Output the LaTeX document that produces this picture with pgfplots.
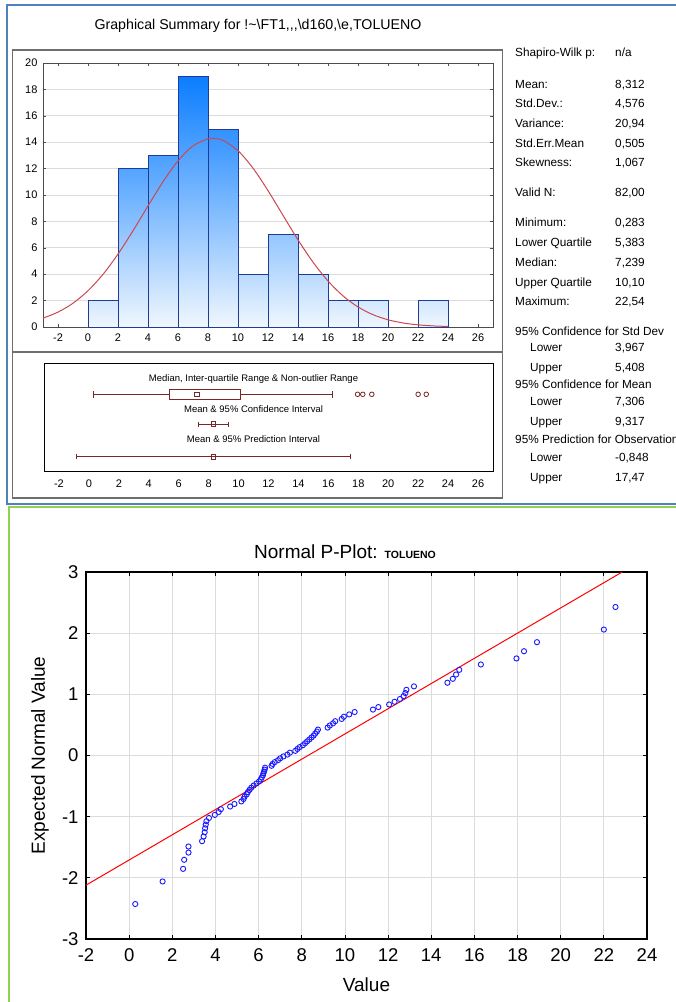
\documentclass[border=0pt]{standalone}
\usepackage{fontspec}
\setmainfont{Liberation Sans}
\usepackage{pgfplots}
\pgfplotsset{compat=1.18}
\definecolor{hdark}{RGB}{10,125,255}
\definecolor{hlight}{RGB}{240,247,254}
\definecolor{hedge}{RGB}{30,60,150}
\definecolor{ncurve}{RGB}{205,70,80}
\definecolor{boxc}{RGB}{120,40,40}
\definecolor{framegray}{RGB}{110,110,110}
\definecolor{gridgray}{RGB}{220,220,220}
\definecolor{bordblue}{RGB}{79,129,189}
\definecolor{bordgreen}{RGB}{146,208,80}
\definecolor{pblue}{RGB}{25,25,255}
\newcommand{\fs}[1]{\fontsize{#1}{#1}\selectfont}
\pgfplotstableread{
x y
0.283 -2.428
1.55 -2.059
2.50 -1.853
2.55 -1.705
2.75 -1.587
2.75 -1.488
3.38 -1.401
3.45 -1.324
3.50 -1.254
3.52 -1.190
3.55 -1.130
3.58 -1.074
3.70 -1.021
3.97 -0.971
4.15 -0.924
4.25 -0.878
4.68 -0.834
4.88 -0.792
5.20 -0.751
5.30 -0.711
5.35 -0.672
5.45 -0.634
5.50 -0.598
5.58 -0.561
5.66 -0.526
5.77 -0.491
5.90 -0.457
6.02 -0.424
6.10 -0.391
6.15 -0.358
6.20 -0.326
6.22 -0.294
6.25 -0.262
6.28 -0.231
6.30 -0.199
6.60 -0.168
6.65 -0.137
6.75 -0.107
6.90 -0.076
7.00 -0.046
7.15 -0.015
7.33 0.015
7.45 0.046
7.70 0.076
7.80 0.107
7.90 0.137
8.05 0.168
8.15 0.199
8.25 0.231
8.35 0.262
8.45 0.294
8.55 0.326
8.62 0.358
8.70 0.391
8.75 0.424
9.20 0.457
9.30 0.491
9.45 0.526
9.55 0.561
9.85 0.598
9.95 0.634
10.20 0.672
10.45 0.711
11.30 0.751
11.55 0.792
12.05 0.834
12.30 0.878
12.55 0.924
12.72 0.971
12.80 1.021
12.85 1.074
13.20 1.130
14.75 1.190
15.00 1.254
15.15 1.324
15.30 1.401
16.30 1.488
17.95 1.587
18.30 1.705
18.90 1.853
22.00 2.059
22.54 2.428
}\pplot
\begin{document}
\begin{tikzpicture}[x=1pt,y=1pt]
\path[use as bounding box] (0,0) rectangle (676,-1002);
% panel borders
\draw[bordblue, line width=2] (690,-5) -- (6.5,-5) -- (6.5,-504) -- (690,-504);
\draw[bordgreen, line width=2] (690,-507) -- (8.5,-507) -- (8.5,-1010);
\draw[framegray, line width=1.5] (12.5,-50) rectangle (502.5,-498);
\draw[framegray, line width=1.2] (12.5,-352) -- (502.5,-352);
\node[anchor=base, font=\fs{14.2}] at (258,-29) {Graphical Summary for !\textasciitilde\textbackslash FT1{,}{,}{,}\textbackslash d160{,}\textbackslash e{,}TOLUENO};
% statistics
\begin{scope}[every node/.style={anchor=base west, font=\fs{11.8}, inner sep=0pt}]
\node at (515,-56) {Shapiro-Wilk p:}; \node at (615,-56) {n/a};
\node at (515,-88) {Mean:}; \node at (615,-88) {8,312};
\node at (515,-107) {Std.Dev.:}; \node at (615,-107) {4,576};
\node at (515,-127) {Variance:}; \node at (615,-127) {20,94};
\node at (515,-147) {Std.Err.Mean}; \node at (615,-147) {0,505};
\node at (515,-166) {Skewness:}; \node at (615,-166) {1,067};
\node at (515,-196) {Valid N:}; \node at (615,-196) {82,00};
\node at (515,-226) {Minimum:}; \node at (615,-226) {0,283};
\node at (515,-246) {Lower Quartile}; \node at (615,-246) {5,383};
\node at (515,-266) {Median:}; \node at (615,-266) {7,239};
\node at (515,-286) {Upper Quartile}; \node at (615,-286) {10,10};
\node at (515,-305) {Maximum:}; \node at (615,-305) {22,54};
\node at (515,-335) {95\% Confidence for Std Dev};
\node at (530,-351) {Lower}; \node at (615,-351) {3,967};
\node at (530,-371) {Upper}; \node at (615,-371) {5,408};
\node at (515,-388) {95\% Confidence for Mean};
\node at (530,-405) {Lower}; \node at (615,-405) {7,306};
\node at (530,-425) {Upper}; \node at (615,-425) {9,317};
\node at (515,-443) {95\% Prediction for Observation};
\node at (530,-461) {Lower}; \node at (615,-461) {-0,848};
\node at (530,-481) {Upper}; \node at (615,-481) {17,47};
\end{scope}
% histogram
\begin{axis}[at={(43pt,-63pt)}, anchor=north west, width=450pt, height=264pt, scale only axis,
  xmin=-3, xmax=27, ymin=0, ymax=20, xtick={-2,0,...,26}, ytick={0,2,...,20},
  ymajorgrids, grid style={gridgray, line width=0.8pt},
  axis line style={black!70, line width=0.8pt}, tick style={black!70, line width=0.6pt},
  major tick length=3pt, tick align=inside, tick pos=both,
  ticklabel style={font=\fs{11}}, xticklabel style={yshift=-3pt}, yticklabel style={xshift=-2pt},
  /pgf/number format/assume math mode=true]
\addplot[ybar, bar width=2, bar shift=0pt, draw=hedge, line width=0.8pt, bottom color=hlight, top color=hdark!13!hlight] coordinates {(1,2)};
\addplot[ybar, bar width=2, bar shift=0pt, draw=hedge, line width=0.8pt, bottom color=hlight, top color=hdark!68!hlight] coordinates {(3,12)};
\addplot[ybar, bar width=2, bar shift=0pt, draw=hedge, line width=0.8pt, bottom color=hlight, top color=hdark!72!hlight] coordinates {(5,13)};
\addplot[ybar, bar width=2, bar shift=0pt, draw=hedge, line width=0.8pt, bottom color=hlight, top color=hdark!100!hlight] coordinates {(7,19)};
\addplot[ybar, bar width=2, bar shift=0pt, draw=hedge, line width=0.8pt, bottom color=hlight, top color=hdark!83!hlight] coordinates {(9,15)};
\addplot[ybar, bar width=2, bar shift=0pt, draw=hedge, line width=0.8pt, bottom color=hlight, top color=hdark!24!hlight] coordinates {(11,4)};
\addplot[ybar, bar width=2, bar shift=0pt, draw=hedge, line width=0.8pt, bottom color=hlight, top color=hdark!40!hlight] coordinates {(13,7)};
\addplot[ybar, bar width=2, bar shift=0pt, draw=hedge, line width=0.8pt, bottom color=hlight, top color=hdark!24!hlight] coordinates {(15,4)};
\addplot[ybar, bar width=2, bar shift=0pt, draw=hedge, line width=0.8pt, bottom color=hlight, top color=hdark!13!hlight] coordinates {(17,2)};
\addplot[ybar, bar width=2, bar shift=0pt, draw=hedge, line width=0.8pt, bottom color=hlight, top color=hdark!13!hlight] coordinates {(19,2)};
\addplot[ybar, bar width=2, bar shift=0pt, draw=hedge, line width=0.8pt, bottom color=hlight, top color=hdark!13!hlight] coordinates {(23,2)};
\addplot[ncurve, line width=1pt, smooth] coordinates {
(-3,0.673) (-2,1.129) (-1,1.803) (0,2.747) (1,3.988) (2,5.522) (3,7.289) (4,9.172)
(5,11.004) (6,12.585) (7,13.722) (8,14.265) (8.312,14.298) (9,14.137) (10,13.357) (11,12.033)
(12,10.333) (13,8.460) (14,6.604) (15,4.914) (16,3.486) (17,2.358) (18,1.520) (19,0.935)
(20,0.548) (21,0.306) (22,0.163) (23,0.083) (24,0.040)};
\end{axis}
% box / interval panel
\begin{axis}[at={(44pt,-363pt)}, anchor=north west, width=449pt, height=108pt, scale only axis,
  xmin=-3, xmax=27, ymin=0, ymax=108, xtick={-2,0,...,26}, ytick=\empty,
  major tick length=0pt, axis line style={black, line width=0.8pt},
  ticklabel style={font=\fs{11}}, xticklabel style={yshift=-5pt},
  /pgf/number format/assume math mode=true, clip=false]
\addplot[boxc, line width=0.8pt] coordinates {(0.283,76.7) (5.383,76.7)};
\addplot[boxc, line width=0.8pt] coordinates {(10.10,76.7) (16.30,76.7)};
\addplot[boxc, line width=0.8pt] coordinates {(0.283,73.2) (0.283,80.2)};
\addplot[boxc, line width=0.8pt] coordinates {(16.30,73.2) (16.30,80.2)};
\addplot[boxc, line width=0.8pt, fill=white] coordinates {(5.383,71.4) (10.10,71.4) (10.10,82) (5.383,82)} -- cycle;
\addplot[boxc, only marks, mark=square, mark size=2.4pt, mark options={line width=0.8pt}] coordinates {(7.239,76.7)};
\addplot[boxc, only marks, mark=o, mark size=2.3pt, mark options={line width=0.8pt}] coordinates {(17.95,76.7) (18.30,76.7) (18.90,76.7) (22.00,76.7) (22.54,76.7)};
\addplot[boxc, line width=0.8pt] coordinates {(7.306,47) (9.317,47)};
\addplot[boxc, line width=0.8pt] coordinates {(7.306,44.5) (7.306,49.5)};
\addplot[boxc, line width=0.8pt] coordinates {(9.317,44.5) (9.317,49.5)};
\addplot[boxc, only marks, mark=square, mark size=2.3pt, mark options={line width=0.8pt}] coordinates {(8.312,47)};
\addplot[boxc, line width=0.8pt] coordinates {(-0.848,14.3) (17.47,14.3)};
\addplot[boxc, line width=0.8pt] coordinates {(-0.848,11.8) (-0.848,16.8)};
\addplot[boxc, line width=0.8pt] coordinates {(17.47,11.8) (17.47,16.8)};
\addplot[boxc, only marks, mark=square, mark size=2.3pt, mark options={line width=0.8pt}] coordinates {(8.312,14.3)};
\node[font=\fs{9.5}] at (axis cs:11,92) {Median, Inter-quartile Range \& Non-outlier Range};
\node[font=\fs{9.5}] at (axis cs:11,61.7) {Mean \& 95\% Confidence Interval};
\node[font=\fs{9.5}] at (axis cs:11,31.7) {Mean \& 95\% Prediction Interval};
\end{axis}
% normal probability plot
\node[anchor=base, font=\fs{19}] at (345,-558) {Normal P-Plot: {\bfseries\fs{10.5}TOLUENO}};
\begin{axis}[at={(86pt,-572pt)}, anchor=north west, width=561pt, height=367pt, scale only axis,
  xmin=-2, xmax=24, ymin=-3, ymax=3, xtick={-2,0,...,24}, ytick={-3,-2,...,3},
  grid=major, grid style={gridgray, line width=0.8pt},
  axis line style={black, line width=1.2pt}, tick style={black, line width=0.8pt},
  tick pos=both, tick align=inside, major tick length=4pt,
  ticklabel style={font=\fs{18.5}}, xticklabel style={yshift=-6pt}, yticklabel style={xshift=-4pt},
  /pgf/number format/assume math mode=true,
  xlabel={Value}, ylabel={Expected Normal Value}, label style={font=\fs{19}},
  xlabel style={at={(axis description cs:0.5,-0.125)}, anchor=center},
  ylabel style={at={(axis description cs:-0.082,0.5)}, anchor=center}]
\addplot[red, line width=1pt] coordinates {(-2,-2.12) (22.85,3)};
\addplot[pblue, only marks, mark=o, mark size=2.6pt, mark options={line width=0.9pt}] table[x=x, y=y] {\pplot};
\end{axis}
\end{tikzpicture}
\end{document}
